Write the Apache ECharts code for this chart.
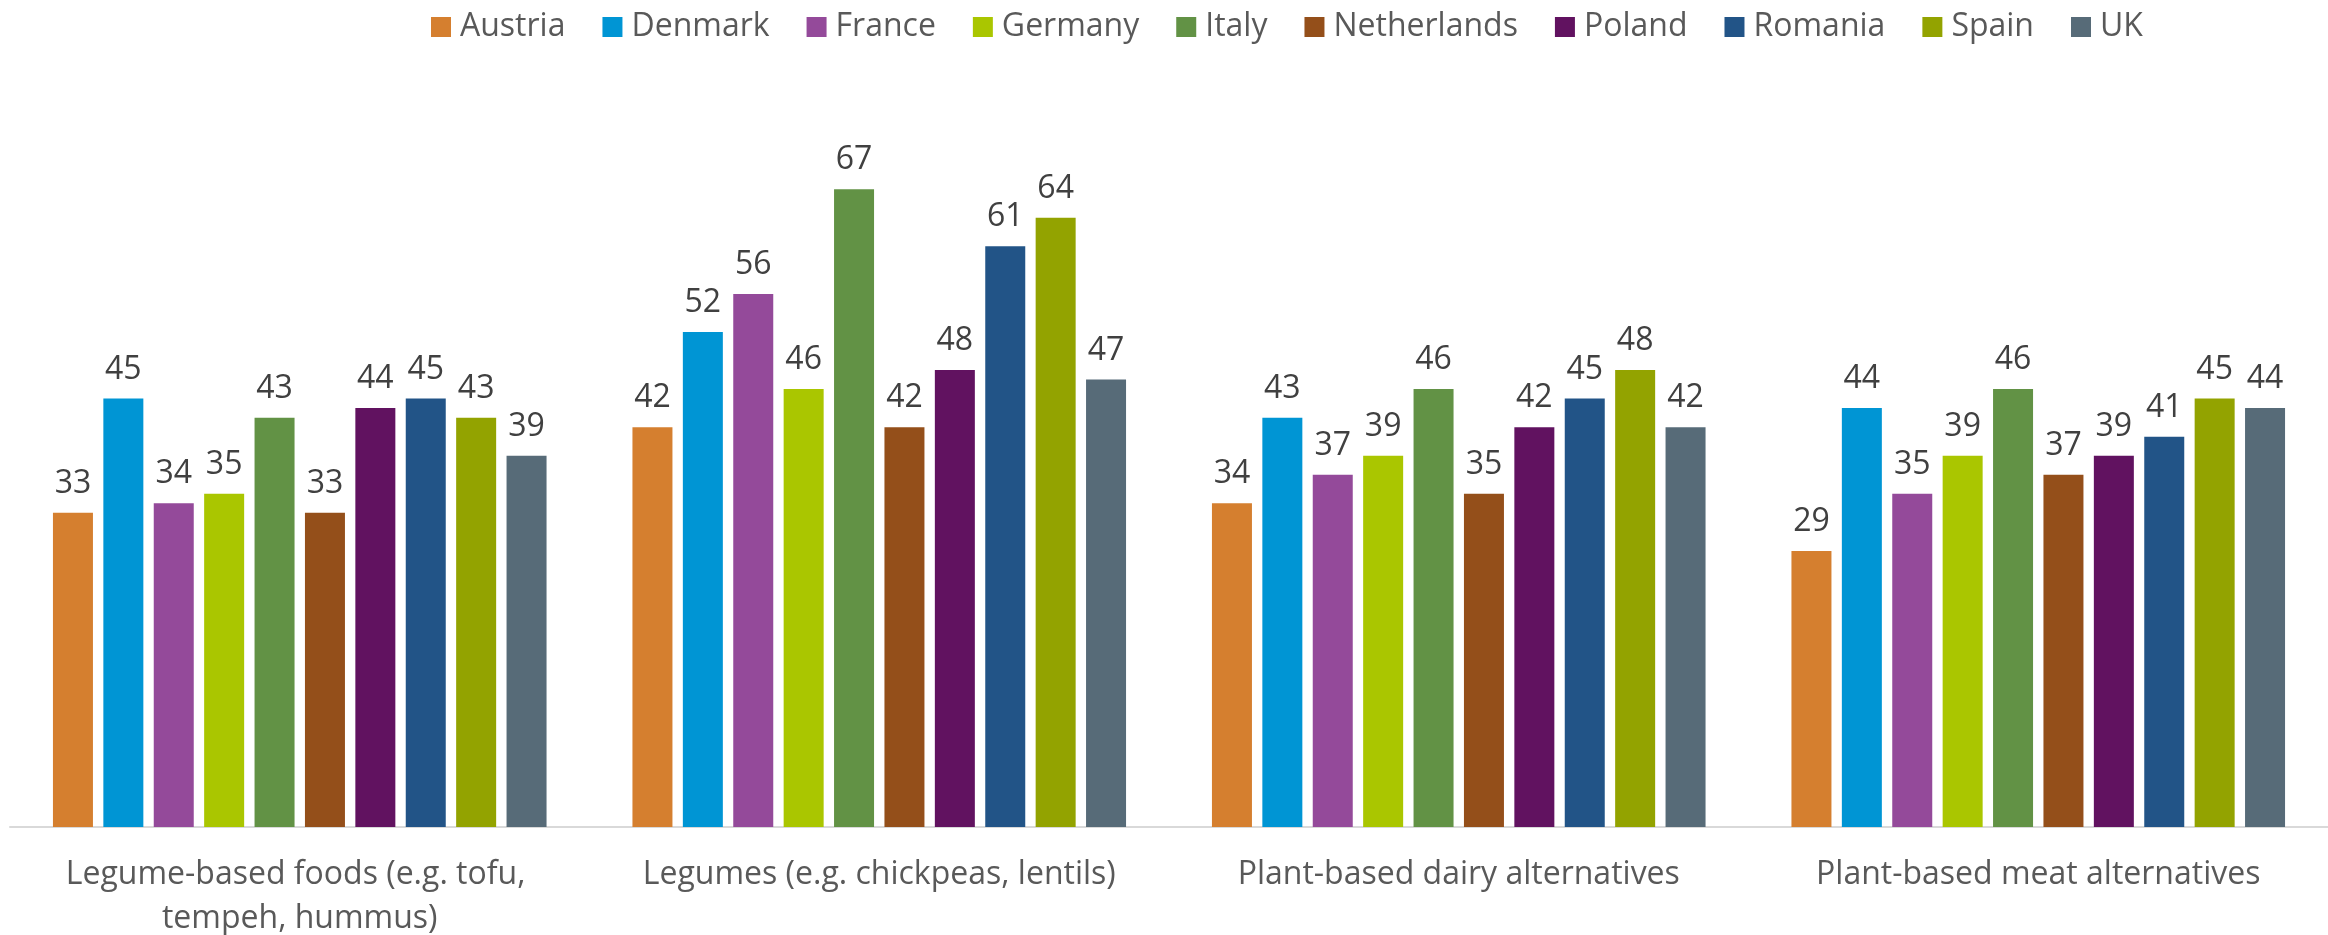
<!DOCTYPE html>
<html>
<head>
<meta charset="utf-8">
<script src="https://cdn.jsdelivr.net/npm/echarts@6/dist/echarts.min.js"></script>
<style>
  html, body { margin: 0; padding: 0; background: #ffffff; }
  #chart { width: 2328px; height: 935px; }
</style>
</head>
<body>
<div id="chart"></div>
<script>
// Product categories on the x axis
const categories = [
  'Legume-based foods (e.g. tofu, tempeh, hummus)',
  'Legumes (e.g. chickpeas, lentils)',
  'Plant-based dairy alternatives',
  'Plant-based meat alternatives'
];

// Countries, one bar series each
const countries = ['Austria', 'Denmark', 'France', 'Germany', 'Italy', 'Netherlands', 'Poland', 'Romania', 'Spain', 'UK'];

// Values per country, in category order
const austria     = [33, 42, 34, 29];
const denmark     = [45, 52, 43, 44];
const france      = [34, 56, 37, 35];
const germany     = [35, 46, 39, 39];
const italy       = [43, 67, 46, 46];
const netherlands = [33, 42, 35, 37];
const poland      = [44, 48, 42, 39];
const romania     = [45, 61, 45, 41];
const spain       = [43, 64, 48, 45];
const uk          = [39, 47, 42, 44];

const values = [austria, denmark, france, germany, italy, netherlands, poland, romania, spain, uk];

const colors = ['#D57F2F', '#0095D4', '#944A9A', '#AAC600', '#629245', '#944F1A', '#611260', '#225487', '#93A300', '#576B78'];

const FONT = '"Open Sans", "Noto Sans", sans-serif';

const chart = echarts.init(document.getElementById('chart'));

chart.setOption({
  animation: false,
  color: colors,
  legend: {
    data: countries,
    left: 426,
    top: 6,
    itemWidth: 20,
    itemHeight: 20,
    itemGap: 37,
    icon: 'rect',
    textStyle: { fontFamily: FONT, fontSize: 32, color: '#595959', padding: [0, 0, 0, 4] }
  },
  grid: { left: 10, right: 0, top: 160.6, bottom: 108, containLabel: false, outerBoundsMode: 'none' },
  xAxis: {
    type: 'category',
    data: categories,
    axisTick: { show: false },
    axisLine: { lineStyle: { color: '#D9D9D9', width: 2 } },
    axisLabel: {
      interval: 0,
      margin: 26,
      fontFamily: FONT,
      fontSize: 32,
      color: '#595959',
      lineHeight: 44,
      width: 530,
      overflow: 'break'
    }
  },
  yAxis: {
    type: 'value',
    min: 0,
    max: 70,
    show: false,
    splitLine: { show: false }
  },
  series: countries.map((name, i) => ({
    name: name,
    type: 'bar',
    data: values[i],
    barWidth: 40,
    barGap: '26%',
    label: {
      show: true,
      position: 'top',
      distance: 13,
      fontFamily: FONT,
      fontSize: 32,
      color: '#404040'
    }
  }))
});
</script>
</body>
</html>
